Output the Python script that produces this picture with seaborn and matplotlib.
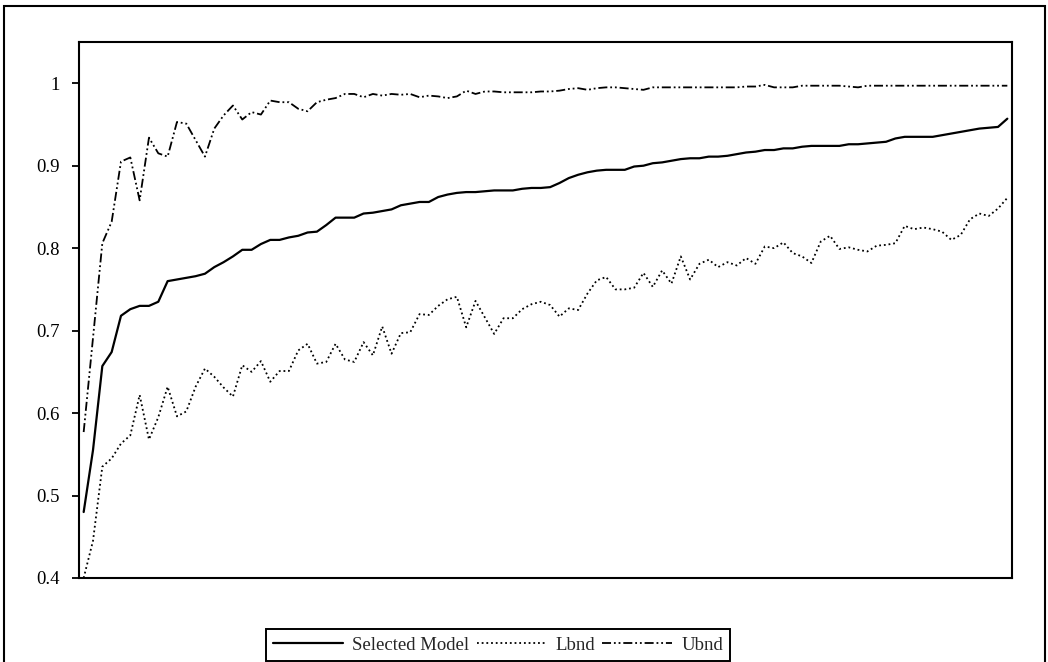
import numpy as np
import pandas as pd
import matplotlib
matplotlib.use("Agg")
import matplotlib.pyplot as plt
from matplotlib.patches import Rectangle
import seaborn as sns

# ---------------- data ----------------
selected_model = [
    0.480, 0.555, 0.657, 0.674, 0.718, 0.726, 0.730, 0.730, 0.735, 0.760,
    0.762, 0.764, 0.766, 0.769, 0.777, 0.783, 0.790, 0.798, 0.798, 0.805,
    0.810, 0.810, 0.813, 0.815, 0.819, 0.820, 0.828, 0.837, 0.837, 0.837,
    0.842, 0.843, 0.845, 0.847, 0.852, 0.854, 0.856, 0.856, 0.862, 0.865,
    0.867, 0.868, 0.868, 0.869, 0.870, 0.870, 0.870, 0.872, 0.873, 0.873,
    0.874, 0.879, 0.885, 0.889, 0.892, 0.894, 0.895, 0.895, 0.895, 0.899,
    0.900, 0.903, 0.904, 0.906, 0.908, 0.909, 0.909, 0.911, 0.911, 0.912,
    0.914, 0.916, 0.917, 0.919, 0.919, 0.921, 0.921, 0.923, 0.924, 0.924,
    0.924, 0.924, 0.926, 0.926, 0.927, 0.928, 0.929, 0.933, 0.935, 0.935,
    0.935, 0.935, 0.937, 0.939, 0.941, 0.943, 0.945, 0.946, 0.947, 0.957,
]

lbnd = [
    0.400, 0.445, 0.535, 0.545, 0.563, 0.573, 0.622, 0.568, 0.595, 0.632,
    0.596, 0.602, 0.632, 0.654, 0.644, 0.631, 0.620, 0.658, 0.650, 0.663,
    0.638, 0.651, 0.651, 0.676, 0.684, 0.660, 0.662, 0.684, 0.665, 0.662,
    0.686, 0.670, 0.705, 0.672, 0.697, 0.698, 0.720, 0.719, 0.730, 0.738,
    0.741, 0.704, 0.736, 0.716, 0.696, 0.715, 0.715, 0.726, 0.732, 0.735,
    0.731, 0.717, 0.727, 0.725, 0.745, 0.761, 0.765, 0.750, 0.750, 0.752,
    0.770, 0.753, 0.773, 0.757, 0.790, 0.762, 0.781, 0.786, 0.777, 0.783,
    0.779, 0.788, 0.781, 0.802, 0.800, 0.807, 0.794, 0.790, 0.782, 0.808,
    0.815, 0.799, 0.801, 0.798, 0.796, 0.803, 0.804, 0.806, 0.827, 0.823,
    0.825, 0.823, 0.820, 0.810, 0.816, 0.835, 0.842, 0.839, 0.848, 0.861,
]

ubnd = [
    0.577, 0.691, 0.806, 0.832, 0.905, 0.910, 0.858, 0.934, 0.915, 0.911,
    0.953, 0.951, 0.931, 0.911, 0.945, 0.961, 0.973, 0.956, 0.965, 0.962,
    0.979, 0.977, 0.977, 0.969, 0.966, 0.977, 0.980, 0.982, 0.987, 0.987,
    0.983, 0.987, 0.985, 0.987, 0.986, 0.987, 0.983, 0.985, 0.984, 0.982,
    0.984, 0.991, 0.987, 0.990, 0.990, 0.989, 0.989, 0.989, 0.989, 0.990,
    0.990, 0.991, 0.993, 0.994, 0.992, 0.994, 0.995, 0.995, 0.994, 0.993,
    0.992, 0.995, 0.995, 0.995, 0.995, 0.995, 0.995, 0.995, 0.995, 0.995,
    0.995, 0.996, 0.996, 0.998, 0.995, 0.995, 0.995, 0.997, 0.997, 0.997,
    0.997, 0.997, 0.996, 0.995, 0.997, 0.997, 0.997, 0.997, 0.997, 0.997,
    0.997, 0.997, 0.997, 0.997, 0.997, 0.997, 0.997, 0.997, 0.997, 0.997,
]

series_names = ["Selected Model", "Lbnd", "Ubnd"]
ytick_values = [0.4, 0.5, 0.6, 0.7, 0.8, 0.9, 1.0]
ytick_labels = ["0.4", "0.5", "0.6", "0.7", "0.8", "0.9", "1"]

# ---------------- style ----------------
sns.set_theme(style="white")
plt.rcParams["font.family"] = ["Liberation Serif", "DejaVu Serif"]
plt.rcParams["font.size"] = 13.5

fig = plt.figure(figsize=(10.48, 6.62), dpi=100)
ax = fig.add_axes([79 / 1048, 1 - 578 / 662, (1012 - 79) / 1048, (578 - 42) / 662])

idx = np.arange(len(selected_model))
df = pd.DataFrame({"idx": idx,
                   series_names[0]: selected_model,
                   series_names[1]: lbnd,
                   series_names[2]: ubnd})

styles = {
    "Selected Model": dict(linestyle="-", linewidth=1.6),
    "Lbnd": dict(linestyle=(0, (1, 1.6)), linewidth=1.3),
    "Ubnd": dict(linestyle=(0, (5, 1.6, 1, 1.6, 1, 1.6)), linewidth=1.3),
}

for name in series_names:
    sns.lineplot(data=df, x="idx", y=name, ax=ax, color="black",
                 label=name, legend=False, **styles[name])

ax.set_xlim(-0.5, len(idx) - 0.5)
ax.set_ylim(0.4, 1.05)
ax.set_xticks([])
ax.set_yticks(ytick_values)
ax.set_yticklabels(ytick_labels)
ax.set_xlabel("")
ax.set_ylabel("")
ax.tick_params(axis="y", direction="out", length=5, width=1.3, pad=9,
               left=True, labelsize=13.5, colors="black")
for sp in ax.spines.values():
    sp.set_visible(True)
    sp.set_color("black")
    sp.set_linewidth(1.5)

handles, labels = ax.get_legend_handles_labels()
leg = fig.legend(handles, labels, loc="center", ncol=3,
                 bbox_to_anchor=(498 / 1048, 1 - 645 / 662),
                 frameon=True, fancybox=False, shadow=False, framealpha=1,
                 handlelength=3.7, handletextpad=0.5, columnspacing=0.4,
                 borderpad=0.4, borderaxespad=0, fontsize=13.5)
leg.get_frame().set_edgecolor("black")
leg.get_frame().set_linewidth(1.4)

# outer chart border
fig.patches.append(Rectangle((3.5 / 1048, -0.05), (1045 - 3.5) / 1048, 1.05 - 5.5 / 662,
                             transform=fig.transFigure, fill=False,
                             edgecolor="black", linewidth=1.5, zorder=0))

fig.savefig("out.png", dpi=100, facecolor="white")
